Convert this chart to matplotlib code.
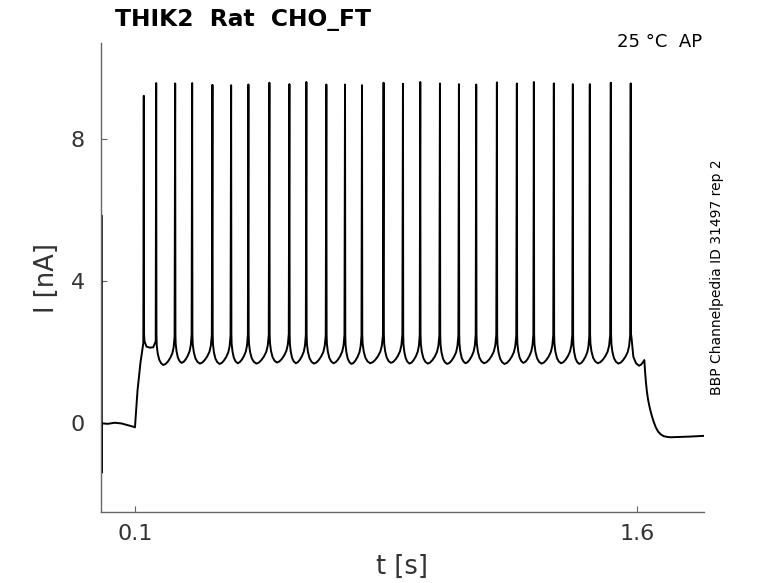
import matplotlib
matplotlib.use("Agg")
import matplotlib.pyplot as plt
import numpy as np

# ---- data ----
title = "THIK2  Rat  CHO_FT"
cond_label = "25 °C  AP"
side_label = "BBP Channelpedia ID 31497 rep 2"
xticks = [0.1, 1.6]
xtick_labels = ["0.1", "1.6"]
yticks = [0, 4, 8]
ytick_labels = ["0", "4", "8"]

# before the step (s, nA)
pre_t = [0.0, 0.0004, 0.0009, 0.0016, 0.004, 0.02, 0.04, 0.06, 0.08, 0.095, 0.1005]
pre_i = [-0.02, 5.86, -1.42, -0.05, -0.02, -0.03, 0.0, -0.02, -0.07, -0.11, -0.13]
# rise at step onset
rise_t = [0.1081, 0.117, 0.1255]
rise_i = [0.9, 1.7, 2.25]

# spikes
spike_t = [0.1269, 0.1639, 0.2206, 0.2713, 0.3319, 0.3877, 0.4393, 0.5020, 0.5617,
           0.6124, 0.6721, 0.7279, 0.7786, 0.8431, 0.9009, 0.9526, 1.0114, 1.0681,
           1.1197, 1.1815, 1.2411, 1.2919, 1.3516, 1.4083, 1.4590, 1.5217, 1.5812]
spike_peak = [9.23, 9.59, 9.58, 9.59, 9.54, 9.53, 9.55, 9.60, 9.56, 9.62, 9.55, 9.55,
              9.53, 9.60, 9.57, 9.62, 9.58, 9.56, 9.55, 9.61, 9.58, 9.62, 9.58, 9.56,
              9.56, 9.60, 9.58]
# plateau between spike 1 and spike 2
plat_t = [0.1290, 0.135, 0.145, 0.155, 0.1625]
plat_i = [2.3, 2.15, 2.12, 2.13, 2.3]
# troughs between later spikes (spike 2 .. spike 26 -> next)
trough_i = [1.63, 1.69, 1.67, 1.66, 1.68, 1.67, 1.70, 1.68, 1.67, 1.68, 1.66, 1.68,
            1.69, 1.67, 1.67, 1.66, 1.68, 1.68, 1.66, 1.69, 1.67, 1.68, 1.66, 1.68, 1.67]
# inter-spike waveform shape (fraction of interval, nA above trough)
isi_frac = [0.03, 0.08, 0.16, 0.26, 0.38, 0.5, 0.62, 0.74, 0.85, 0.92, 0.97]
isi_off = [0.55, 0.33, 0.15, 0.05, 0.0, 0.03, 0.1, 0.2, 0.33, 0.5, 0.8]
# after last spike and step offset
end_t = [1.5835, 1.589, 1.597, 1.606, 1.612, 1.617, 1.6218, 1.6240, 1.6265, 1.6295,
         1.633, 1.638, 1.644, 1.650, 1.656, 1.663, 1.671, 1.680, 1.690, 1.700,
         1.73, 1.76, 1.8]
end_i = [2.4, 1.86, 1.68, 1.61, 1.64, 1.70, 1.77, 1.45, 1.15, 0.88, 0.65, 0.42, 0.2,
         0.02, -0.13, -0.25, -0.33, -0.38, -0.40, -0.41, -0.40, -0.39, -0.37]

# ---- assemble trace ----
T = list(pre_t) + list(rise_t)
I = list(pre_i) + list(rise_i)
n = len(spike_t)
for k in range(n):
    tk = spike_t[k]
    T += [tk, tk + 0.0008]
    I += [spike_peak[k], 2.5]
    if k == 0:
        T += plat_t
        I += plat_i
    elif k < n - 1:
        dt = spike_t[k + 1] - tk
        tr = trough_i[k - 1]
        T += [tk + f * dt for f in isi_frac]
        I += [tr + o for o in isi_off]
    else:
        T += end_t
        I += end_i

fig = plt.figure(figsize=(7.78, 5.83), dpi=100)
ax = fig.add_axes([101.3 / 778, 1 - 512 / 583, (704 - 101.3) / 778, (512 - 42.7) / 583])
ax.plot(T, I, color="black", lw=1.4, solid_joinstyle="round")
ax.set_xlim(0, 1.8)
ax.set_ylim(-2.52, 10.73)

for s in ["top", "right"]:
    ax.spines[s].set_visible(False)
for s in ["left", "bottom"]:
    ax.spines[s].set_color("#666666")
    ax.spines[s].set_linewidth(1.0)

ax.set_xticks(xticks)
ax.set_xticklabels(xtick_labels)
ax.set_yticks(yticks)
ax.set_yticklabels(ytick_labels)
ax.tick_params(axis="both", direction="in", length=4.5, width=0.8, color="#666666",
               labelsize=16, labelcolor="#333333")
ax.tick_params(axis="x", pad=9)
ax.tick_params(axis="y", pad=12)

fig.text(402 / 778, 1 - 567 / 583, "t [s]", ha="center", va="center", fontsize=18.5, color="#333333")
fig.text(47 / 778, 1 - 278 / 583, "I [nA]", ha="center", va="center", rotation=90,
         fontsize=18.5, color="#333333")
fig.text(115 / 778, 1 - 26 / 583, title, ha="left", va="baseline", fontsize=16.8,
         fontweight="bold", color="black")
fig.text(702 / 778, 1 - 46.7 / 583, cond_label, ha="right", va="baseline", fontsize=13,
         color="black")
fig.text(717 / 778, 1 - 277 / 583, side_label, ha="center", va="center", rotation=90,
         fontsize=10, color="black")

fig.savefig("out.png", dpi=100)
